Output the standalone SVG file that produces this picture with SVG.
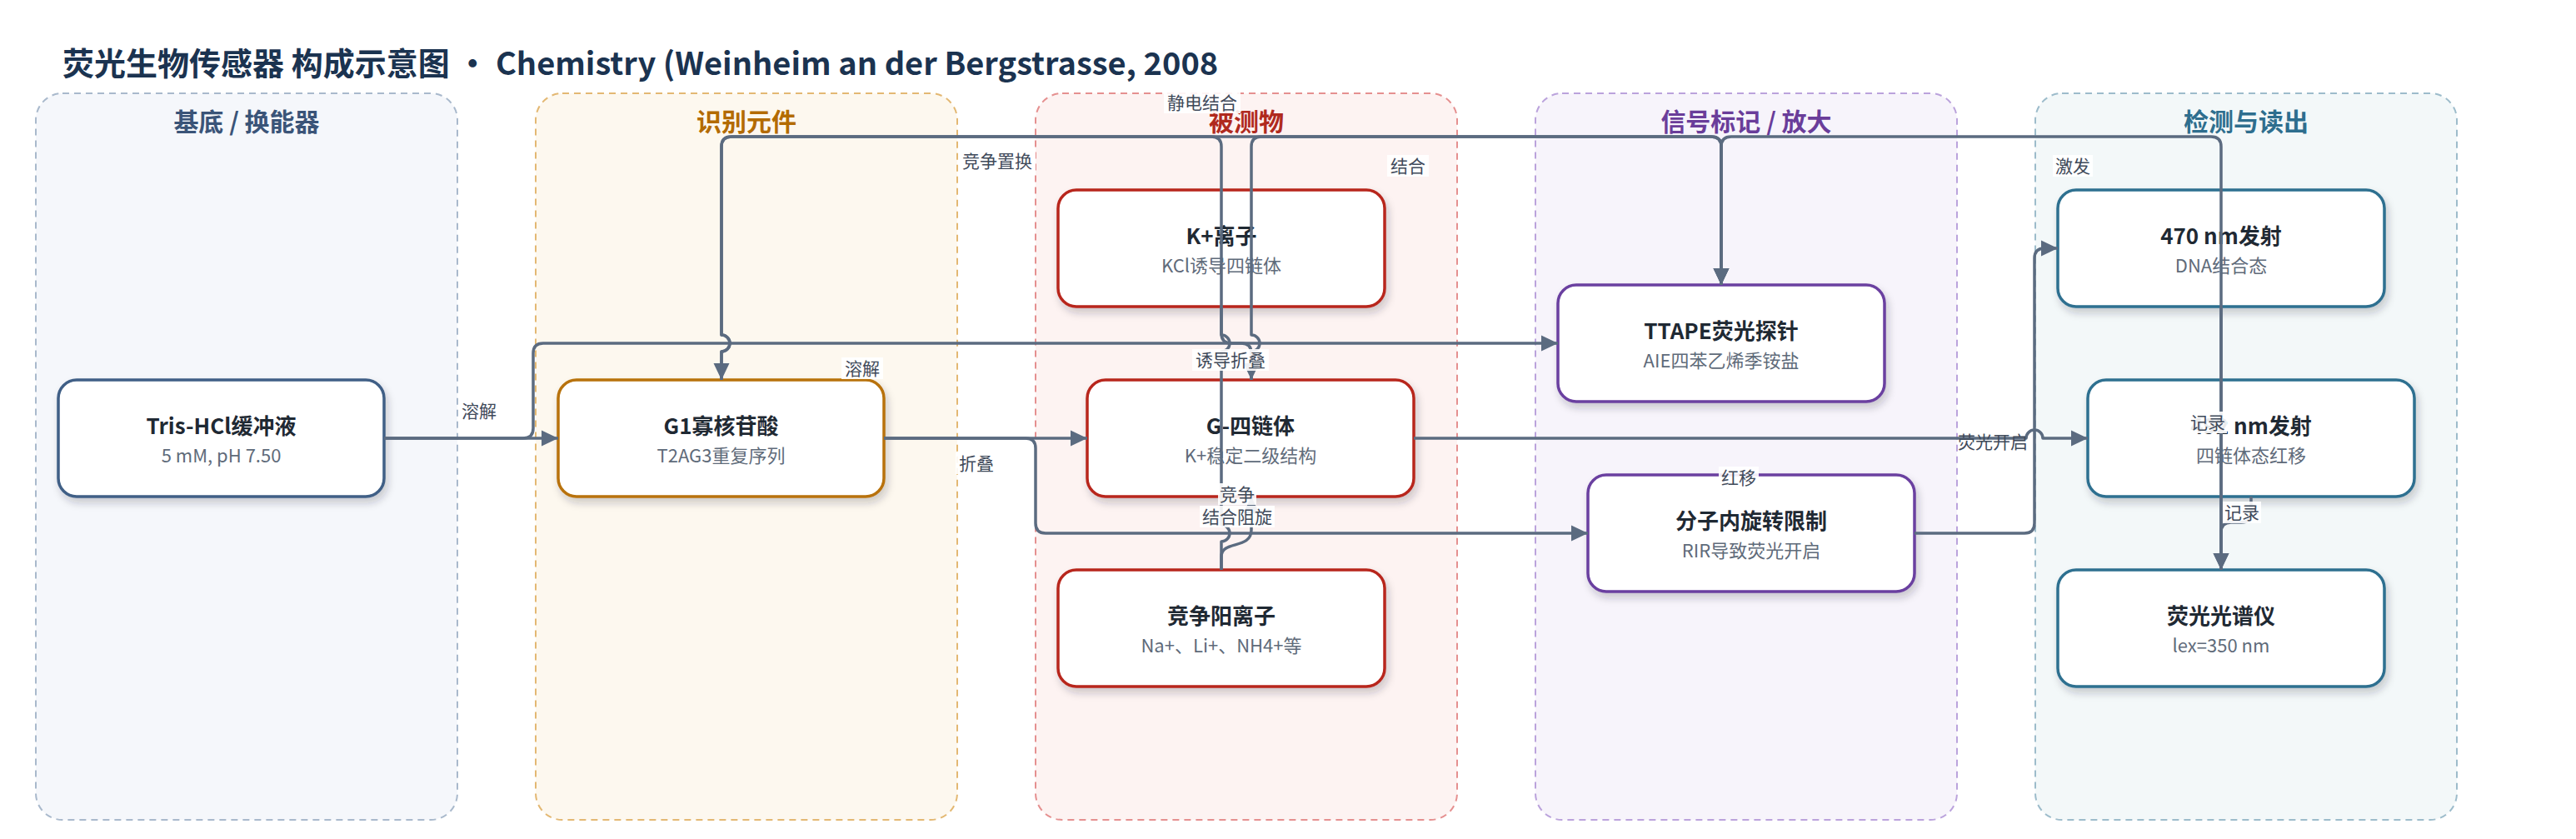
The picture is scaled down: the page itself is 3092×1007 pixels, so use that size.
<svg xmlns="http://www.w3.org/2000/svg" width="3092" height="1007" viewBox="0 0 3092 1007">
<defs>
<filter id="sh" x="-10%" y="-10%" width="125%" height="135%"><feDropShadow dx="3" dy="6" stdDeviation="5" flood-color="#1f2933" flood-opacity="0.22"/></filter>
<marker id="ar" markerUnits="userSpaceOnUse" markerWidth="22" markerHeight="20" refX="20" refY="10" orient="auto"><path d="M0,0.5 L20,10 L0,19.5 z" fill="#5b6b80"/></marker>
<style>
text{font-family:'Noto Sans CJK SC','Noto Sans',sans-serif}
.lane{stroke-width:2;stroke-dasharray:8 6}
.lh{font-size:30px;font-weight:700;text-anchor:middle}
.nd{fill:#fff;stroke-width:3.5;filter:url(#sh)}
.t1{font-size:26px;font-weight:700;fill:#1f2933;text-anchor:middle}
.t2{font-size:22px;fill:#5f6b7a;text-anchor:middle}
.e{fill:none;stroke:#5b6b80;stroke-width:3.5;stroke-linejoin:round}
.ea{marker-end:url(#ar)}
.lb{fill:#fff;opacity:0.9}
.lt{font-size:21px;fill:#3f4a5a;text-anchor:middle}
</style>
</defs>
<rect width="3092" height="1007" fill="#fff"/>
<text x="75" y="90" font-size="38" font-weight="700" fill="#1b3350">荧光生物传感器 构成示意图 · Chemistry (Weinheim an der Bergstrasse, 2008</text>
<g id="lanes">
<g id="lane-substrate"><rect class="lane" x="43" y="112" width="506" height="872" rx="32" fill="#f5f7fb" stroke="#a9b9cc"/><text class="lh" x="296" y="157" fill="#3a5478">基底 / 换能器</text></g>
<g id="lane-recognition"><rect class="lane" x="643" y="112" width="506" height="872" rx="32" fill="#fdf8ef" stroke="#e3b873"/><text class="lh" x="896" y="157" fill="#b36b00">识别元件</text></g>
<g id="lane-analyte"><rect class="lane" x="1243" y="112" width="506" height="872" rx="32" fill="#fdf3f2" stroke="#e59090"/><text class="lh" x="1496" y="157" fill="#b02a1e">被测物</text></g>
<g id="lane-signal"><rect class="lane" x="1843" y="112" width="506" height="872" rx="32" fill="#f7f4fb" stroke="#bba3dc"/><text class="lh" x="2096" y="157" fill="#6a3d9a">信号标记 / 放大</text></g>
<g id="lane-detect"><rect class="lane" x="2443" y="112" width="506" height="872" rx="32" fill="#f3f8f9" stroke="#9dbccb"/><text class="lh" x="2696" y="157" fill="#2e6e8e">检测与读出</text></g>
</g>
<g id="nodes">
<g id="n-tris"><rect class="nd" x="70" y="456" width="391" height="140" rx="22" stroke="#3f5f86"/><text class="t1" x="265.5" y="521">Tris-HCl缓冲液</text><text class="t2" x="265.5" y="555">5 mM, pH 7.50</text></g>
<g id="n-g1"><rect class="nd" x="670" y="456" width="391" height="140" rx="22" stroke="#b87209"/><text class="t1" x="865.5" y="521">G1寡核苷酸</text><text class="t2" x="865.5" y="555">T2AG3重复序列</text></g>
<g id="n-k"><rect class="nd" x="1270" y="228" width="392" height="140" rx="22" stroke="#b8271e"/><text class="t1" x="1466" y="293">K+离子</text><text class="t2" x="1466" y="327">KCl诱导四链体</text></g>
<g id="n-g4"><rect class="nd" x="1305" y="456" width="392" height="140" rx="22" stroke="#b8271e"/><text class="t1" x="1501" y="521">G-四链体</text><text class="t2" x="1501" y="555">K+稳定二级结构</text></g>
<g id="n-comp"><rect class="nd" x="1270" y="684" width="392" height="140" rx="22" stroke="#b8271e"/><text class="t1" x="1466" y="749">竞争阳离子</text><text class="t2" x="1466" y="783">Na+、Li+、NH4+等</text></g>
<g id="n-ttape"><rect class="nd" x="1870" y="342" width="392" height="140" rx="22" stroke="#6b3fa0"/><text class="t1" x="2066" y="407">TTAPE荧光探针</text><text class="t2" x="2066" y="441">AIE四苯乙烯季铵盐</text></g>
<g id="n-rir"><rect class="nd" x="1906" y="570" width="392" height="140" rx="22" stroke="#6b3fa0"/><text class="t1" x="2102" y="635">分子内旋转限制</text><text class="t2" x="2102" y="669">RIR导致荧光开启</text></g>
<g id="n-470"><rect class="nd" x="2470" y="228" width="392" height="140" rx="22" stroke="#2e7090"/><text class="t1" x="2666" y="293">470 nm发射</text><text class="t2" x="2666" y="327">DNA结合态</text></g>
<g id="n-492"><rect class="nd" x="2506" y="456" width="392" height="140" rx="22" stroke="#2e7090"/><text class="t1" x="2702" y="521">492 nm发射</text><text class="t2" x="2702" y="555">四链体态红移</text></g>
<g id="n-spec"><rect class="nd" x="2470" y="684" width="392" height="140" rx="22" stroke="#2e7090"/><text class="t1" x="2666" y="749">荧光光谱仪</text><text class="t2" x="2666" y="783">lex=350 nm</text></g>
</g>
<g id="connectors">
<path class="e ea" d="M461,526 H670"/>
<path class="e ea" d="M461,526 H628 Q640,526 640,514 V424 Q640,412 652,412 H1870"/>
<path class="e ea" d="M1061,526 H1305"/>
<path class="e ea" d="M1061,526 H1231 Q1243,526 1243,538 V628 Q1243,640 1255,640 H1906"/>
<path class="e ea" d="M1466,368 V400 Q1466,412 1478,412 H1490 Q1502,412 1502,424 V456"/>
<path class="e ea" d="M1466,684 V650 A10,10 0 0 0 1466,630 V422 A10,10 0 0 0 1466,402 V176 Q1466,164 1454,164 H878 Q866,164 866,176 V402 A10,10 0 0 1 866,422 V456"/>
<path class="e ea" d="M866,456 V422 A10,10 0 0 0 866,402 V176 Q866,164 878,164 H2054 Q2066,164 2066,176 V342"/>
<path class="e ea" d="M1502,456 V422 A10,10 0 0 0 1502,402 V176 Q1502,164 1514,164 H2054 Q2066,164 2066,176 V342"/>
<path class="e ea" d="M2666,684 V176 Q2666,164 2654,164 H2078 Q2066,164 2066,176 V342"/>
<path class="e ea" d="M1466,684 V668 C1466,648 1502,660 1502,636 V596"/>
<path class="e ea" d="M2298,640 H2430 Q2442,640 2442,628 V310 Q2442,298 2454,298 H2470"/>
<path class="e ea" d="M1697,526 H2432 A10,10 0 0 1 2452,526 H2506"/>
<path class="e ea" d="M2666,368 V684"/>
<path class="e ea" d="M2702,596 V615 Q2702,627 2690,627 H2678 Q2666,627 2666,639 V684"/>
</g>
<g id="edge-labels">
<rect class="lb" x="550" y="480" width="50" height="26"/><text class="lt" x="575" y="501">溶解</text>
<rect class="lb" x="1010" y="429" width="50" height="26"/><text class="lt" x="1035" y="450">溶解</text>
<rect class="lb" x="1147" y="543" width="50" height="26"/><text class="lt" x="1172" y="564">折叠</text>
<rect class="lb" x="1151" y="180" width="92" height="26"/><text class="lt" x="1197" y="201">竞争置换</text>
<rect class="lb" x="1397" y="110" width="92" height="26"/><text class="lt" x="1443" y="131">静电结合</text>
<rect class="lb" x="1665" y="186" width="50" height="26"/><text class="lt" x="1690" y="207">结合</text>
<rect class="lb" x="1431" y="419" width="92" height="26"/><text class="lt" x="1477" y="440">诱导折叠</text>
<rect class="lb" x="1462" y="580" width="46" height="26"/><text class="lt" x="1485" y="601">竞争</text>
<rect class="lb" x="1440" y="607" width="90" height="26"/><text class="lt" x="1485" y="628">结合阻旋</text>
<rect class="lb" x="2063" y="560" width="48" height="26"/><text class="lt" x="2087" y="581">红移</text>
<text class="lt" x="2392" y="538">荧光开启</text>
<rect class="lb" x="2464" y="186" width="48" height="26"/><text class="lt" x="2488" y="207">激发</text>
<rect class="lb" x="2627" y="494" width="46" height="26" opacity="0.75"/><text class="lt" x="2650" y="515">记录</text>
<rect class="lb" x="2668" y="602" width="46" height="26"/><text class="lt" x="2691" y="623">记录</text>
</g>
</svg>
